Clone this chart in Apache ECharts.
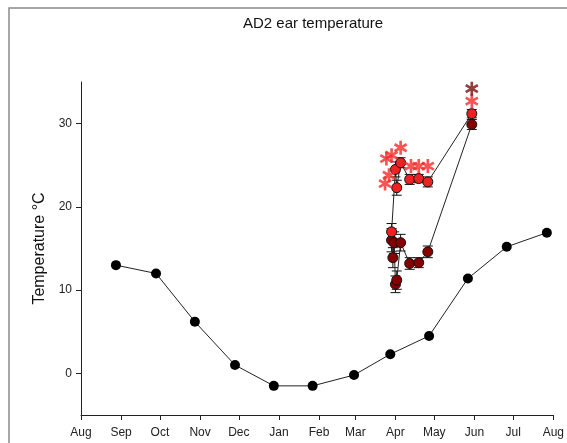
<!DOCTYPE html>
<html>
<head>
<meta charset="utf-8">
<script src="https://cdn.jsdelivr.net/npm/echarts@6/dist/echarts.min.js"></script>
<style>
	html, body { margin: 0; padding: 0; background: #fff; }
	#chart { width: 567px; height: 443px; }
</style>
</head>
<body>
<div id="chart"></div>
<script>
// month axis
const axisMin = '2012-08-01';
const axisMax = '2013-08-01';
const monthTicks = ['2012-08-01', '2012-09-01', '2012-10-01', '2012-11-01', '2012-12-01', '2013-01-01',
	'2013-02-01', '2013-03-01', '2013-04-01', '2013-05-01', '2013-06-01', '2013-07-01', '2013-08-01'];
const monthNames = ['Jan', 'Feb', 'Mar', 'Apr', 'May', 'Jun', 'Jul', 'Aug', 'Sep', 'Oct', 'Nov', 'Dec'];
const yTicks = [0, 10, 20, 30];

// monthly ambient (black)
const monthDates = ['2012-08-28', '2012-09-28', '2012-10-28', '2012-11-28', '2012-12-28', '2013-01-27',
	'2013-02-28', '2013-03-28', '2013-04-27', '2013-05-27', '2013-06-26', '2013-07-27'];
const monthTemps = [13.0, 12.0, 6.2, 1.0, -1.5, -1.5, -0.2, 2.3, 4.5, 11.4, 15.2, 16.9];

// upper ear series (red)
const upDates = ['2013-03-29', '2013-04-01', '2013-04-02', '2013-04-05', '2013-04-12', '2013-04-19', '2013-04-26', '2013-05-30'];
const upTemps = [17.0, 24.5, 22.3, 25.3, 23.3, 23.4, 23.0, 31.2];
const upErr = [1.0, 0.9, 0.9, 0.6, 0.6, 0.5, 0.6, 0.5];

// lower ear series (dark red)
const lowDates = ['2013-03-29', '2013-03-30', '2013-03-31', '2013-04-01', '2013-04-02', '2013-04-05',
	'2013-04-12', '2013-04-19', '2013-04-26', '2013-05-30'];
const lowTemps = [16.0, 13.9, 15.7, 10.7, 11.2, 15.7, 13.2, 13.3, 14.6, 29.9];
const lowErr = [1.4, 1.2, 1.3, 1.0, 1.1, 1.0, 0.7, 0.6, 0.7, 0.6];

// significance asterisks
const starRedDates = ['2013-03-25', '2013-03-29', '2013-04-05', '2013-03-27', '2013-03-24', '2013-04-13', '2013-04-19', '2013-04-26', '2013-05-30'];
const starRedTemps = [25.8, 26.2, 27.1, 23.8, 22.8, 24.9, 24.9, 24.9, 32.7];
const starDarkDates = ['2013-05-30'];
const starDarkTemps = [34.2];

const chart = echarts.init(document.getElementById('chart'));

// days since axisMin
function day(s) {
	const p = s.split('-'), q = axisMin.split('-');
	return Math.round((Date.UTC(+p[0], +p[1] - 1, +p[2]) - Date.UTC(+q[0], +q[1] - 1, +q[2])) / 86400000);
}
const tickDays = monthTicks.map(day);

function pairs(dates, vals) {
	return dates.map((d, i) => [day(d), vals[i]]);
}

function errData(dates, vals, errs) {
	return dates.map((d, i) => [day(d), vals[i] - errs[i], vals[i] + errs[i]]);
}

// asterisk shape: three crossing bars, one of them vertical
function asteriskPath() {
	let p = '';
	const L = 10, W = 1.9;
	[0, 60, 120].forEach(a => {
		const r = a * Math.PI / 180;
		const c = Math.cos(r), s = Math.sin(r);
		const pts = [[-W, -L], [W, -L], [W, L], [-W, L]].map(q => [q[0] * c - q[1] * s, q[0] * s + q[1] * c]);
		p += 'M' + pts.map(q => q[0].toFixed(2) + ' ' + q[1].toFixed(2)).join(' L') + ' Z ';
	});
	return 'path://' + p;
}
const starSymbol = asteriskPath();

function errorBars(data) {
	return {
		type: 'custom',
		z: 3,
		renderItem: function(params, api) {
			const lo = api.coord([api.value(0), api.value(1)]);
			const hi = api.coord([api.value(0), api.value(2)]);
			const w = 5;
			const style = { stroke: '#111', lineWidth: 1 };
			return {
				type: 'group',
				children: [
					{ type: 'line', shape: { x1: lo[0], y1: lo[1], x2: hi[0], y2: hi[1] }, style: style },
					{ type: 'line', shape: { x1: lo[0] - w, y1: lo[1], x2: lo[0] + w, y2: lo[1] }, style: style },
					{ type: 'line', shape: { x1: hi[0] - w, y1: hi[1], x2: hi[0] + w, y2: hi[1] }, style: style }
				]
			};
		},
		encode: { x: 0, y: [1, 2] },
		data: data,
		silent: true
	};
}

const font = 'Liberation Sans, Arial, sans-serif';

let option = {
	backgroundColor: '#fff',
	animation: false,
	title: {
		text: 'AD2 ear temperature',
		left: 238,
		top: 11,
		textStyle: {
			color: '#111',
			fontWeight: 400,
			fontFamily: font,
			fontSize: 15
		}
	},
	graphic: [{
		type: 'rect',
		shape: { x: 9, y: 8, width: 700, height: 600 },
		style: { fill: 'none', stroke: '#8a8a8a', lineWidth: 1.5 },
		silent: true
	}],
	grid: {
		left: 81,
		right: 9,
		top: 82,
		bottom: 28
	},
	xAxis: {
		type: 'value',
		min: 0,
		max: day(axisMax),
		splitLine: { show: false },
		axisLine: { onZero: false, lineStyle: { color: '#222', width: 1 } },
		axisTick: {
			customValues: tickDays,
			length: 5,
			inside: false,
			lineStyle: { color: '#222' }
		},
		axisLabel: {
			customValues: tickDays,
			color: '#222',
			fontFamily: font,
			fontSize: 12,
			margin: 12,
			formatter: function(v) {
				const i = tickDays.indexOf(Math.round(v));
				const m = +monthTicks[i].split('-')[1];
				return monthNames[m - 1];
			}
		}
	},
	yAxis: {
		type: 'value',
		min: -5,
		max: 35,
		name: 'Temperature °C',
		nameLocation: 'middle',
		nameGap: 33,
		nameTextStyle: {
			color: '#111',
			fontFamily: font,
			fontSize: 16
		},
		splitLine: { show: false },
		axisLine: { show: true, lineStyle: { color: '#222', width: 1 } },
		axisTick: {
			show: true,
			customValues: yTicks,
			length: 5,
			lineStyle: { color: '#222' }
		},
		axisLabel: {
			customValues: yTicks,
			color: '#222',
			fontFamily: font,
			fontSize: 12,
			margin: 9
		}
	},
	series: [{
		name: 'monthly',
		type: 'line',
		data: pairs(monthDates, monthTemps),
		symbol: 'circle',
		symbolSize: 10,
		lineStyle: { color: '#222', width: 1 },
		itemStyle: { color: '#000', borderColor: '#000', borderWidth: 0 },
		z: 2
	}, {
		name: 'low',
		type: 'line',
		data: pairs(lowDates, lowTemps),
		symbol: 'circle',
		symbolSize: 10,
		lineStyle: { color: '#222', width: 1 },
		itemStyle: { color: '#850000', borderColor: '#111', borderWidth: 1 },
		z: 4
	}, {
		name: 'up',
		type: 'line',
		data: pairs(upDates, upTemps),
		symbol: 'circle',
		symbolSize: 10,
		lineStyle: { color: '#222', width: 1 },
		itemStyle: { color: '#ee2222', borderColor: '#111', borderWidth: 1 },
		z: 5
	},
	errorBars(errData(lowDates, lowTemps, lowErr)),
	errorBars(errData(upDates, upTemps, upErr)),
	{
		name: 'starRed',
		type: 'scatter',
		data: pairs(starRedDates, starRedTemps),
		symbol: starSymbol,
		symbolSize: 14,
		symbolKeepAspect: true,
		itemStyle: { color: '#f52a2a' },
		z: 6
	}, {
		name: 'starDark',
		type: 'scatter',
		data: pairs(starDarkDates, starDarkTemps),
		symbol: starSymbol,
		symbolSize: 14,
		symbolKeepAspect: true,
		itemStyle: { color: '#7a0c0c' },
		z: 6
	}]
};
chart.setOption(option);
</script>
</body>
</html>
